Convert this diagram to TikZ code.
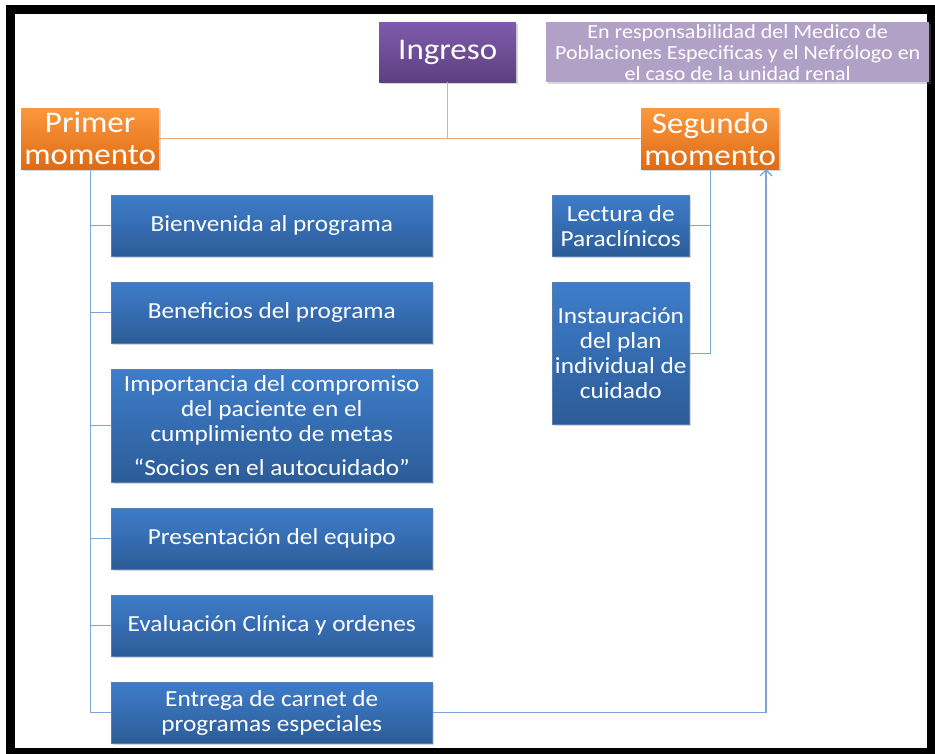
\documentclass[tikz,border=0pt]{standalone}
\usepackage{fontspec}
\setmainfont{Carlito}[FakeStretch=1.1]
\usetikzlibrary{arrows.meta,shadows}

\definecolor{azularriba}{HTML}{3E7DCA}
\definecolor{azulabajo}{HTML}{2C5C98}
\definecolor{azullinea}{HTML}{7EA4D4}
\definecolor{naranjaarriba}{HTML}{FA983E}
\definecolor{naranjaabajo}{HTML}{DF6B14}
\definecolor{naranjalinea}{HTML}{F5A86A}
\definecolor{moradoarriba}{HTML}{7F5BAB}
\definecolor{moradoabajo}{HTML}{5D4080}
\definecolor{lila}{HTML}{B2A1C7}

\begin{document}
\begin{tikzpicture}[x=1pt,y=-1pt,
    sombra/.style={drop shadow={shadow xshift=1.5pt,shadow yshift=-2pt,opacity=0.3}},
    paso/.style={sombra,draw=azulabajo!80,line width=0.5pt,top color=azularriba,bottom color=azulabajo,
      text=white,font=\fontsize{23}{25}\selectfont,align=center,anchor=north west,inner sep=0pt},
    momento/.style={sombra,top color=naranjaarriba,bottom color=naranjaabajo,text=white,
      font=\fontsize{30}{32}\selectfont,align=center,anchor=north west,inner sep=0pt,
      minimum width=138pt,minimum height=61pt},
    enlace/.style={draw=azullinea,line width=1.3pt},
    rama/.style={draw=naranjalinea,line width=1.3pt}]
  \useasboundingbox (0,0) rectangle (935,753);
  \fill[white] (0,0) rectangle (935,753);
  \draw[line width=9pt] (10.5,9) rectangle (931,752);

  % cabecera
  \node[sombra,top color=moradoarriba,bottom color=moradoabajo,text=white,anchor=north west,inner sep=0pt,
    minimum width=137pt,minimum height=60pt,font=\fontsize{30}{34}\selectfont] (ing) at (379,22) {Ingreso};
  \node[sombra,fill=lila,text=white,anchor=north west,inner sep=0pt,align=center,
    minimum width=383pt,minimum height=60pt,font=\fontsize{20}{21}\selectfont] (nota) at (546,22)
    {En responsabilidad del Medico de\\Poblaciones Especificas y el Nefrólogo en\\el caso de la unidad renal};
  \node[momento] (prim) at (21,108) {Primer\\momento};
  \node[momento] (seg) at (641,108) {Segundo\\momento};

  % primer momento
  \node[paso,minimum width=321pt,minimum height=61pt] (bien) at (111,195) {Bienvenida al programa};
  \node[paso,minimum width=321pt,minimum height=61pt] (bene) at (111,282) {Beneficios del programa};
  \node[paso,minimum width=321pt,minimum height=113pt] (impo) at (111,369)
    {Importancia del compromiso\\del paciente en el\\cumplimiento de metas\\[9pt]“Socios en el autocuidado”};
  \node[paso,minimum width=321pt,minimum height=61pt] (pres) at (111,508) {Presentación del equipo};
  \node[paso,minimum width=321pt,minimum height=61pt] (eval) at (111,595) {Evaluación Clínica y ordenes};
  \node[paso,minimum width=321pt,minimum height=61pt] (ent) at (111,682) {Entrega de carnet de\\programas especiales};

  % segundo momento
  \node[paso,minimum width=137pt,minimum height=61pt] (lect) at (552,195) {Lectura de\\Paraclínicos};
  \node[paso,minimum width=137pt,minimum height=142pt] (inst) at (552,282)
    {Instauración\\del plan\\individual de\\cuidado};

  % conectores
  \draw[rama] (ing.south) -- (ing.south |- prim.east);
  \draw[rama] (prim.east) -- (seg.west);
  \draw[enlace] (prim.south) -- (prim.south |- ent.west) -- (ent.west);
  \foreach \n in {bien,bene,impo,pres,eval}
    \draw[enlace] (prim.south |- \n.west) -- (\n.west);
  \draw[enlace] (seg.south) -- (seg.south |- inst.east) -- (inst.east);
  \draw[enlace] (seg.south |- lect.east) -- (lect.east);
  \coordinate (llegada) at (766,169);
  \draw[enlace,-{Straight Barb[length=6pt,width=12pt]}] (ent.east) -| (llegada);
\end{tikzpicture}
\end{document}
